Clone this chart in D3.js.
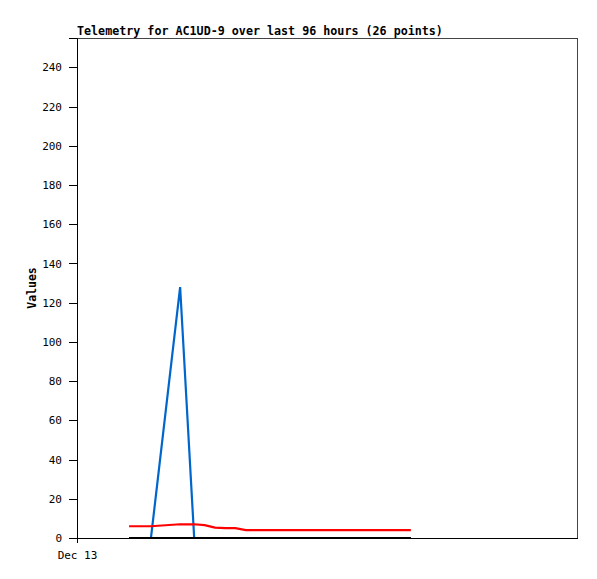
<!DOCTYPE html>
<html><head><meta charset="utf-8">
<script src="https://cdn.jsdelivr.net/npm/d3@7"></script>
<style>
body{margin:0;background:#fff;}
text{font-family:"DejaVu Sans Mono","Liberation Mono",monospace;}
</style></head>
<body><svg id="c" width="597" height="579"></svg>
<script>
// hours after Dec 13 00:00
const hours = [10, 12, 14.2, 19.8, 22.5, 24.5, 26.5, 28.5, 30.4, 32.4, 34.4, 36.4, 38.4, 40.4, 42.4, 44.3, 46.3, 48.3, 50.3, 52.3, 54.3, 56.2, 58.2, 60.2, 62.2, 64.1];
const blueValues = [0, 0, 0, 128, 0, 0, 0, 0, 0, 0, 0, 0, 0, 0, 0, 0, 0, 0, 0, 0, 0, 0, 0, 0, 0, 0];
const redValues = [6, 6, 6, 7, 7, 6.6, 5.3, 5, 5, 4, 4, 4, 4, 4, 4, 4, 4, 4, 4, 4, 4, 4, 4, 4, 4, 4];
const blackValues = [0, 0, 0, 0, 0, 0, 0, 0, 0, 0, 0, 0, 0, 0, 0, 0, 0, 0, 0, 0, 0, 0, 0, 0, 0, 0];
const yTicks = [0, 20, 40, 60, 80, 100, 120, 140, 160, 180, 200, 220, 240];
const xTickLabels = ["Dec 13"];
const title = "Telemetry for AC1UD-9 over last 96 hours (26 points)";

const start = new Date(2023, 11, 13, 0, 0);
const times = hours.map(h => new Date(start.getTime() + h * 3600e3));
const svg = d3.select("#c");
const L = 77, R = 577, T = 38, B = 538;
const x = d3.scaleTime().domain([start, new Date(start.getTime() + 96 * 3600e3)]).range([L, R]);
const y = d3.scaleLinear().domain([0, 255]).range([B, T]);

svg.append("rect").attr("x", L).attr("y", T).attr("width", R - L).attr("height", B - T)
  .attr("fill", "none").attr("stroke", "#444").attr("stroke-width", 1).attr("shape-rendering", "crispEdges");

const line = vals => d3.line().x((d, i) => x(times[i])).y(d => y(d))(vals);
const series = [[blueValues, "#0066cc"], [redValues, "#ff0000"], [blackValues, "#000000"]];
series.forEach(([vals, col]) => {
  svg.append("path").attr("d", line(vals)).attr("fill", "none").attr("stroke", col)
    .attr("stroke-width", 2.2);
});

const ya = svg.append("g").attr("transform", `translate(${L},0)`)
  .call(d3.axisLeft(y).tickValues(yTicks).tickSize(8).tickPadding(7));
ya.select(".domain").attr("stroke", "#000");
ya.selectAll("text").attr("font-size", 11).attr("fill", "#000");
ya.selectAll("line").attr("shape-rendering", "crispEdges");

const xa = svg.append("g").attr("transform", `translate(0,${B})`)
  .call(d3.axisBottom(x).tickValues([start]).tickFormat((d, i) => xTickLabels[i]).tickSize(5).tickSizeOuter(0).tickPadding(8));
xa.select(".domain").attr("stroke", "#000").attr("shape-rendering", "crispEdges");
xa.selectAll("text").attr("font-size", 11).attr("fill", "#000");

svg.append("text").attr("x", L).attr("y", 35).attr("font-size", 11.7).attr("font-weight", "bold").text(title);
svg.append("text").attr("transform", `translate(36,${(T + B) / 2}) rotate(-90)`)
  .attr("text-anchor", "middle").attr("font-size", 11.5).attr("font-weight", "bold").text("Values");
</script></body></html>
